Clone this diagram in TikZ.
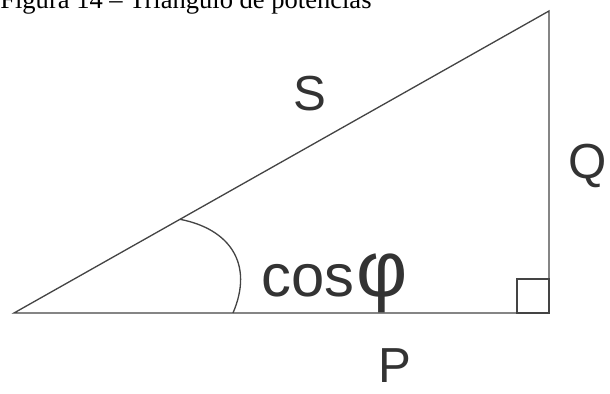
\documentclass[tikz,border=0pt]{standalone}
\usepackage{fontspec}
\setmainfont{Liberation Serif}
\newfontfamily\labelfont{Liberation Sans}
\definecolor{linegray}{HTML}{444444}
\definecolor{textgray}{HTML}{333333}
\tikzset{
    side/.style={draw=linegray, line width=0.75pt},
    quantity/.style={text=textgray, inner sep=0pt, font=\labelfont\fontsize{28}{28}\selectfont}
}
\begin{document}
\begin{tikzpicture}
        \useasboundingbox (0,0) rectangle (12.2,7.88);
        % Caption
        \node[anchor=base west, inner sep=0pt, font=\fontsize{15.1}{16}\selectfont] (caption) at (0,7.714) {Figura 14 – Triângulo de potências};

        % Triangle corners
        \coordinate (a) at (0.28,1.62);
        \coordinate (b) at (10.98,1.62);
        \coordinate (c) at (10.98,7.66);
        \draw[side] (a) -- (b) -- (c) -- cycle;

        % Right angle mark
        \draw[side] (10.34,1.62) rectangle (10.98,2.3);

        % Angle arc
        \coordinate (arcstart) at (3.60,3.494);
        \coordinate (arcend) at (4.66,1.62);
        \draw[side] (arcstart) .. controls (4.6,3.3) and (5.08,2.6) .. (arcend);

        % Labels
        \node[quantity] (S) at (6.20,6.0) {S};
        \node[quantity, anchor=west] (Q) at (11.36,4.56) {Q};
        \node[quantity] (P) at (7.90,0.56) {P};
        \node[quantity, anchor=base west, font=\labelfont\fontsize{34}{34}\selectfont] (cosphi) at (5.22,1.94) {cos\kern1pt{\fontsize{45}{45}\selectfont φ}};
\end{tikzpicture}
\end{document}
